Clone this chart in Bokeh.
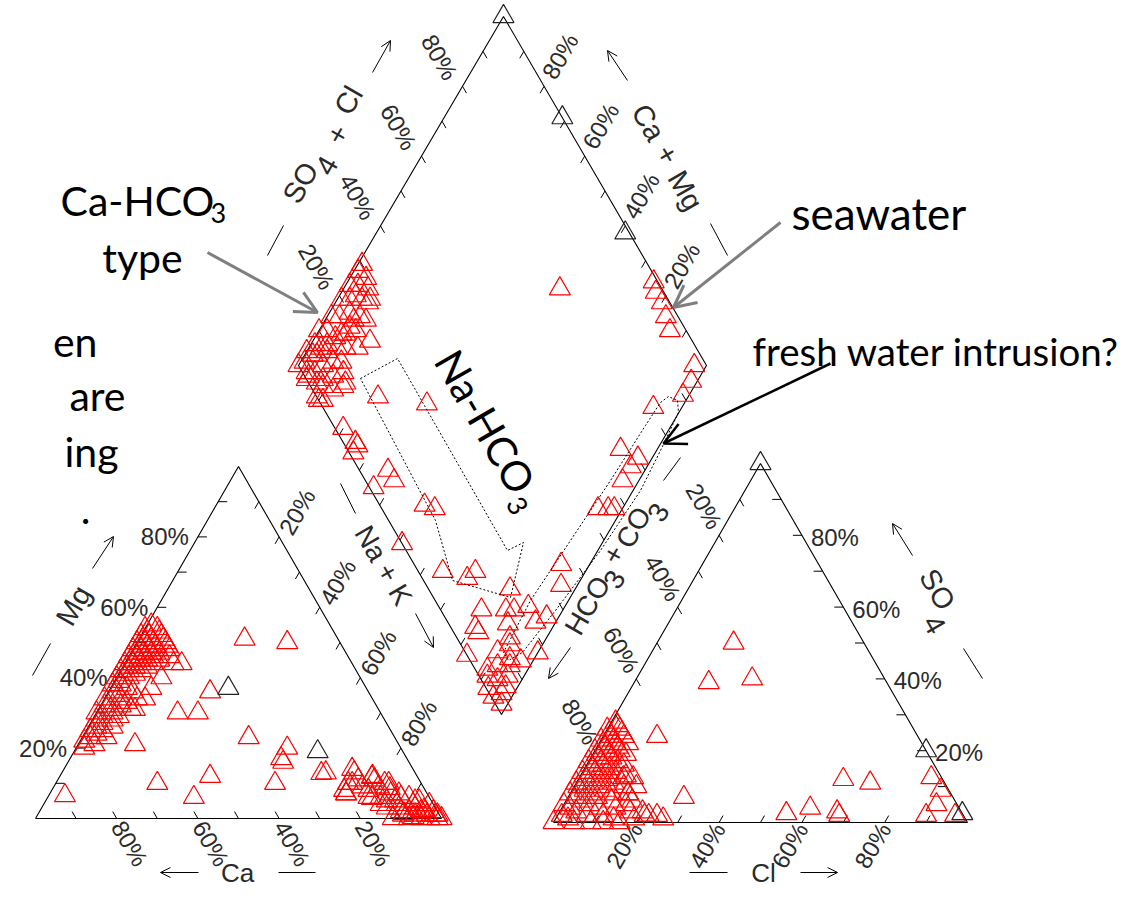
import numpy as np
from bokeh.plotting import figure
from bokeh.models import Arrow, OpenHead
from bokeh.core.properties import value
from bokeh.embed import file_html
from bokeh.resources import INLINE

# ---------------- data (percent of meq) ----------------
# cation triangle: Mg %, Na+K % (Ca = 100 - Mg - Na+K)
cat_mg = [55, 54, 54, 53, 53, 52, 52, 52, 51, 51, 51, 50, 50, 50, 50, 49, 49, 49, 49, 48, 48, 48, 48, 48,
          47, 47, 47, 47, 46, 46, 46, 46, 46, 45, 45, 45, 45, 44, 44, 44, 44, 44, 44, 43, 43, 43, 42, 42,
          42, 41, 41, 40, 40, 40, 39, 37,
          38, 38, 37, 36, 36, 35, 34, 34, 34, 33, 33, 32, 32, 31, 31, 30, 30, 29, 29, 28, 28, 27, 26, 26,
          25, 25, 24, 23, 23, 22, 21, 20, 34, 31,
          6.5, 10, 6, 12, 23, 10, 21, 51, 50, 36, 30, 30, 20, 17, 16, 13, 13, 7,
          14, 11, 10, 7, 4, 1, 0, 8, 8, 4, 2, 0, 0, 10, 12, 9, 6, 5, 3, 6, 3, 2, 1, 4, 2, 1, 0, 5, 7, 9,
          11, 3, 1, 0, 2, 4, 6, 0, 12.8, 10, 7, 11.7, 10, 8.5, 5.7, 5, 6, 5, 2.3, 1, 1.4, 0.3]
cat_nak = [1, 0, 3, 1, 4, 0, 2, 5, 1, 3, 6, 0, 2, 4, 7, 1, 3, 5, 8, 0, 2, 4, 6, 9,
           1, 3, 5, 7, 0, 2, 4, 6, 10, 1, 3, 5, 8, 0, 2, 4, 7, 12, 14, 1, 3, 6, 0, 2,
           5, 1, 4, 0, 3, 11, 1, 10,
           0, 2, 4, 1, 6, 3, 0, 4, 8, 2, 6, 1, 5, 3, 8, 0, 4, 2, 6, 1, 5, 3, 2, 6,
           1, 4, 3, 2, 6, 1, 4, 2, 10, 9,
           4, 25, 36, 37, 41, 54, 14, 26, 37, 25, 20, 25, 52, 52, 53, 65, 72, 73,
           71, 78, 82, 86, 91, 96, 99, 72, 78, 83, 89, 95, 92, 73, 77, 80, 82, 86, 88, 89, 92, 94, 93, 95,
           97, 98, 97, 91, 84, 76, 74, 85, 90, 88, 91, 87, 79, 100, 64, 72, 73, 77, 81, 83, 80, 84, 87,
           92, 94.5, 98.5, 90, 93]
cat_ref_mg = [37, 19]
cat_ref_nak = [29, 60]

# anion triangle: SO4 %, Cl % (HCO3+CO3 = 100 - SO4 - Cl)
an_so4 = [28, 27, 26, 26, 25, 25, 24, 24, 23, 23, 22, 22, 22, 21, 21, 20, 20, 20, 19, 19, 19, 18, 18,
          17, 17, 17, 16, 16, 16, 15, 15, 14, 14, 14, 13, 13, 13, 12, 12, 11, 11, 11, 10, 10, 10, 9, 9,
          8, 8, 8, 8, 7, 7, 6, 6, 5, 5, 5, 4, 4, 4, 3, 3, 2, 2, 2, 1, 1, 1, 0, 0, 0, 0, 12.5, 2, 2, 1,
          2, 0, 3, 6, 10,
          50, 39, 40, 24, 7, 12, 11, 4, 2.5, 3, 2, 12.5, 9, 5, 2, 2, 12.5, 8]
an_cl = [1, 2, 0, 3, 1, 4, 2, 5, 0, 3, 1, 4, 7, 2, 5, 0, 3, 6, 1, 4, 8, 2, 5,
         0, 3, 7, 1, 4, 9, 2, 6, 0, 3, 8, 1, 5, 11, 2, 7, 0, 4, 9, 1, 6, 12, 3, 8,
         0, 5, 10, 14, 2, 7, 4, 11, 0, 6, 15, 2, 9, 13, 4, 17, 1, 7, 11, 3, 14, 19, 0, 5, 9, 16, 13, 22,
         24, 26, 21, 12, 20, 16, 15,
         18.5, 18, 28, 13, 28, 64, 71, 60, 55, 67, 68, 85, 89, 90, 89, 96, 10.6, 14]
an_ref_so4 = [100, 20, 2.5]
an_ref_cl = [0, 80, 97.5]

# diamond: SO4+Cl %, Ca+Mg %
dia_anion = [0, 2, 4, 5, 7, 8, 10, 10, 12, 13, 15, 15, 17, 18, 20, 20, 22, 22, 24, 25, 26, 27, 28, 29,
             3, 6, 9, 11, 1, 4, 7, 2, 0, 14, 17, 21, 16, 19, 23, 12, 6, 3, 5, 8, 1, 0, 10, 26, 24, 28, 20,
             9, 30,
             0, 1, 9, 2, 3, 3, 1, 7, 7, 1, 15, 26, 11, 13, 0, 6, 11, 14, 10, 18, 6, 6, 0, 14.5, 21.5, 25,
             17.7, 13, 12, 12.4, 9, 3, 6, 8, 10, 0.5, 0.5, 1.5, 4, 5, 7, 2, 3, 20, 16, 22,
             98, 98, 97, 96, 97, 94, 90, 81, 67, 70, 67, 63, 55.5, 57, 53, 36, 33, 99, 75]
dia_cation = [100, 99, 100, 98, 99, 97, 100, 96, 98, 95, 99, 94, 97, 93, 99, 95, 97, 92, 99, 94, 97, 92,
              99, 96, 95, 94, 92, 90, 97, 92, 90, 93, 96, 91, 88, 86, 93, 91, 90, 93, 97, 91, 88, 86, 89,
              91, 88, 92, 96, 94, 93, 95, 99,
              90, 96, 86, 80, 75, 74, 74, 63, 60, 64, 76, 63, 49, 46, 49, 35, 28, 27, 20, 12, 19, 17.5, 17,
              11.5, 5, 3, 0, 9, 8, 3, 5, 10, 8, 10, 6, 7, 4.5, 1.5, 6, 3, 4, 9, 3, 16, 14, 9,
              23, 20, 17, 14, 3, 1.5, 1.5, 7, 9, 3.5, 4, 4, 3.5, 2, 6, 7, 4, 25, 47]
dia_ref_anion = [100, 100, 99]
dia_ref_cation = [100, 71, 39]

tick_pcts = [20, 40, 60, 80]

# ---------------- layout (picture pixels) ----------------
W, H = 1132, 889
p = figure(width=W, height=H, x_range=(0, W), y_range=(H, 0),
           output_backend="svg", toolbar_location=None, min_border=0)
p.axis.visible = False
p.grid.visible = False
p.outline_line_color = None
p.background_fill_color = "white"
p.border_fill_color = "white"

CBL, CBR, CT = np.array([35., 818.]), np.array([441., 818.]), np.array([238., 466.])
ABL, ABR, AT = np.array([553., 822.]), np.array([967., 822.]), np.array([760., 463.])
DB, DR, DL = np.array([501., 714.]), np.array([706., 365.]), np.array([298., 365.])
DT = DR + DL - DB


def tern(bl, br, t, fbl, fbr, ft):
    fbl, fbr, ft = (np.asarray(v, float) / 100 for v in (fbl, fbr, ft))
    pts = np.outer(fbl, bl) + np.outer(fbr, br) + np.outer(ft, t)
    return pts[:, 0], pts[:, 1]


def dia(a, c):
    a = np.asarray(a, float) / 100
    c = np.asarray(c, float) / 100
    pts = DB + np.outer(a, DR - DB) + np.outer(c, DL - DB)
    return pts[:, 0], pts[:, 1]


# outlines
for pts in ([CBL, CBR, CT, CBL], [ABL, ABR, AT, ABL], [DB, DR, DT, DL, DB]):
    p.line([q[0] for q in pts], [q[1] for q in pts], line_color="black", line_width=1.1)

# ticks
tx0, ty0, tx1, ty1 = [], [], [], []


def add_ticks(start, end, dvec, L=8):
    d = np.asarray(dvec, float)
    d = d / np.hypot(*d)
    for k in range(1, 10):
        P = start + (end - start) * k / 10
        tx0.append(P[0]); ty0.append(P[1])
        tx1.append(P[0] + L * d[0]); ty1.append(P[1] + L * d[1])


add_ticks(CBL, CT, (1, 0), 9)
add_ticks(CBL, CBR, CT - CBR)
add_ticks(CT, CBR, CBL - CT)
add_ticks(ABR, AT, (-1, 0), 9)
add_ticks(ABL, ABR, AT - ABL)
add_ticks(AT, ABL, ABR - AT)
add_ticks(DL, DT, DB - DL)
add_ticks(DR, DT, DB - DR)
add_ticks(DB, DL, DR - DB)
add_ticks(DB, DR, DL - DB)
p.segment(tx0, ty0, tx1, ty1, line_color="black", line_width=1)

LF = value("Liberation Sans")
TC = "#2a2a2a"


def txt(xs, ys, ss, size, angle=0.0, align="center", baseline="middle", font=LF, color=TC):
    p.text(x=list(xs), y=list(ys), text=list(ss), angle=np.deg2rad(angle), text_font=font,
           text_font_size=f"{size}px", text_align=align, text_baseline=baseline, text_color=color)


labs = [f"{k}%" for k in tick_pcts]
f = np.array(tick_pcts) / 100.0
# cation triangle tick labels
P = CBL + np.outer(f, CT - CBL)
txt(P[:, 0] - 9, P[:, 1], labs, 24, 0, "right")
P = CBL + np.outer(1 - f, CBR - CBL)
txt(P[:, 0] + 13, P[:, 1] + 25, labs, 24, -60)
P = CT + np.outer(f, CBR - CT)
txt(P[:, 0] + 18, P[:, 1] - 25, labs, 24, 60)
# anion triangle tick labels
P = ABR + np.outer(f, AT - ABR)
txt(P[:, 0] + 9, P[:, 1] + 2, labs, 24, 0, "left")
P = ABL + np.outer(f, ABR - ABL)
txt(P[:, 0] - 12, P[:, 1] + 23, labs, 24, 60)
P = AT + np.outer(f, ABL - AT)
txt(P[:, 0] - 15, P[:, 1] - 29, labs, 24, -60)
# diamond tick labels
P = DL + np.outer(f, DT - DL)
txt(P[:, 0] - 23, P[:, 1] - 29, labs, 24, -60)
P = DR + np.outer(f, DT - DR)
txt(P[:, 0] + 16, P[:, 1] - 30, labs, 24, 60)

# axis titles
BOT = 887     # bottom edge of the "Ca" / "Cl" title boxes
MID = 872     # height of their side arrows
txt([73], [605], ["Mg"], 29, 60)
txt([237], [BOT], ["Ca"], 26, 0, "center", "bottom")
txt([383], [565], ["Na + K"], 28, -60)
txt([937, 934], [589, 624], ["SO", "4"], 29, -60)
txt([763], [BOT], ["Cl"], 26, 0, "center", "bottom")
txt([587, 614, 613, 633, 658], [605, 579, 554, 527, 512], ["HCO", "3", "+", "CO", "3"], 28, 60)
txt([300, 326, 337, 348], [182, 165, 134, 100], ["SO", "4", "+", "Cl"], 29, 60)
txt([648, 667, 685], [122, 154, 190], ["Ca", "+", "Mg"], 29, -60)

# axis arrows / dashes
dash_x0 = [32, 278, 340, 963, 689, 663, 267, 710]
dash_y0 = [675, MID, 483, 648, MID, 480, 255, 223]
dash_x1 = [50, 315, 355, 982, 727, 680, 283, 727]
dash_y1 = [643, MID, 513, 678, MID, 457, 225, 255]
p.segment(dash_x0, dash_y0, dash_x1, dash_y1, line_color="black", line_width=1)


def arrow(x0, y0, x1, y1, color="black", width=1.0, head=10):
    p.add_layout(Arrow(end=OpenHead(size=head, line_color=color, line_width=width),
                       x_start=x0, y_start=y0, x_end=x1, y_end=y1,
                       line_color=color, line_width=width))


arrow(92, 568, 113, 536)
arrow(198, MID, 160, MID)
arrow(415, 613, 433, 647)
arrow(912, 555, 892, 523)
arrow(800, MID, 837, MID)
arrow(570, 647, 548, 678)
arrow(372, 72, 390, 40)
arrow(627, 80, 607, 50)

# samples
mk = dict(marker="triangle", size=21, fill_color=None, line_width=1.2)
x, y = tern(CBL, CBR, CT, 100 - np.array(cat_mg) - np.array(cat_nak), cat_nak, cat_mg)
p.scatter(x, y, line_color="#ff0000", **mk)
x, y = tern(CBL, CBR, CT, 100 - np.array(cat_ref_mg) - np.array(cat_ref_nak), cat_ref_nak, cat_ref_mg)
p.scatter(x, y, line_color="#222222", **mk)
x, y = tern(ABL, ABR, AT, 100 - np.array(an_so4) - np.array(an_cl), an_cl, an_so4)
p.scatter(x, y, line_color="#ff0000", **mk)
x, y = tern(ABL, ABR, AT, 100 - np.array(an_ref_so4) - np.array(an_ref_cl), an_ref_cl, an_ref_so4)
p.scatter(x, y, line_color="#222222", **mk)
x, y = dia(dia_anion, dia_cation)
p.scatter(x, y, line_color="#ff0000", **mk)
x, y = dia(dia_ref_anion, dia_ref_cation)
p.scatter(x, y, line_color="#222222", **mk)

# ---------------- slide annotations ----------------
SF = value("Lato")
txt([60], [200], ["Ca-HCO"], 41, 0, "left", "alphabetic", SF, "black")
txt([210], [212], ["3"], 27, 0, "left", "alphabetic", SF, "black")
txt([142], [257], ["type"], 41, 0, "center", "alphabetic", SF, "black")
txt([791], [212], ["seawater"], 44, 0, "left", "alphabetic", SF, "black")
txt([752], [350], ["fresh water intrusion?"], 38.5, 0, "left", "alphabetic", SF, "black")
txt([485], [421], ["Na-HCO"], 41, -60, "center", "middle", SF, "black")
txt([517], [505], ["3"], 27, -60, "center", "middle", SF, "black")
txt([97, 125, 118, 90], [341, 395, 451, 509], ["en", "are", "ing", "."], 41, 0, "right", "alphabetic", SF, "black")

arrow(207, 252, 317, 312, "#7f7f7f", 3, 22)
arrow(780, 222, 673, 307, "#7f7f7f", 3, 22)
arrow(830, 363, 663, 443, "black", 2.5, 22)

# dotted outlines
p.line([360, 397, 507, 523, 510, 452, 435, 360], [378, 358, 550, 542, 597, 580, 520, 378],
       line_color="black", line_width=1, line_dash="2 2")
p.line([660, 668, 677, 678, 660, 640, 600, 555, 522, 508, 503, 530, 570, 610, 645, 660],
       [402, 396, 400, 412, 450, 490, 550, 610, 652, 660, 652, 600, 540, 480, 425, 402],
       line_color="black", line_width=1, line_dash="2 2")

open("out.html", "w").write(file_html(p, INLINE))
